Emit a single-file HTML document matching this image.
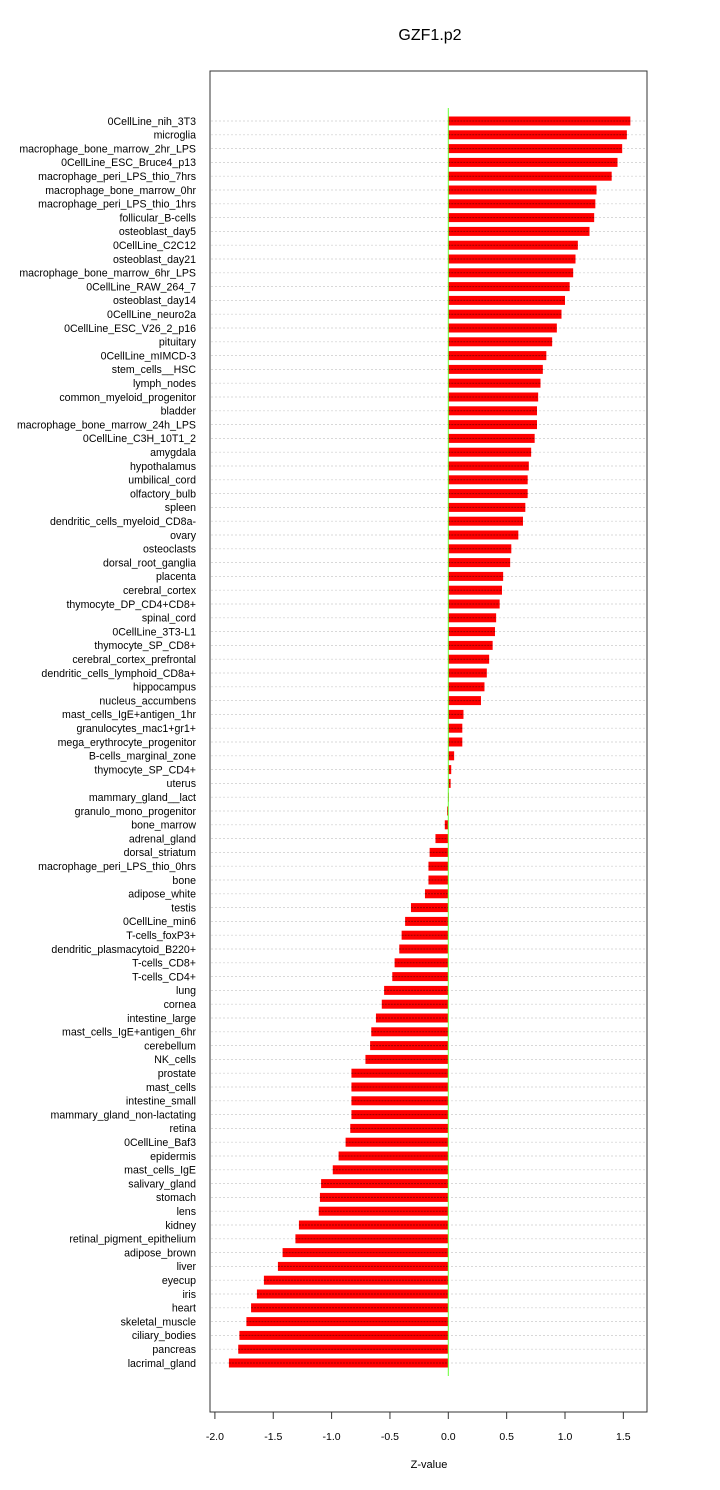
<!DOCTYPE html>
<html><head><meta charset="utf-8"><style>
body{margin:0;background:#fff;}
svg text{font-family:"Liberation Sans",sans-serif;}
</style></head><body>
<svg id="chart" width="720" height="1485" xmlns="http://www.w3.org/2000/svg">
<text x="430" y="40" font-size="16" text-anchor="middle">GZF1.p2</text>
<rect x="210" y="71" width="437" height="1341" fill="none" stroke="#333" stroke-width="1"/>
<g id="grid"></g><g id="bars"></g><g id="labels"></g><g id="xaxis"></g>
<text x="429" y="1468" font-size="11" text-anchor="middle">Z-value</text>
</svg>
<script>
const categories=["0CellLine_nih_3T3","microglia","macrophage_bone_marrow_2hr_LPS","0CellLine_ESC_Bruce4_p13","macrophage_peri_LPS_thio_7hrs","macrophage_bone_marrow_0hr","macrophage_peri_LPS_thio_1hrs","follicular_B-cells","osteoblast_day5","0CellLine_C2C12","osteoblast_day21","macrophage_bone_marrow_6hr_LPS","0CellLine_RAW_264_7","osteoblast_day14","0CellLine_neuro2a","0CellLine_ESC_V26_2_p16","pituitary","0CellLine_mIMCD-3","stem_cells__HSC","lymph_nodes","common_myeloid_progenitor","bladder","macrophage_bone_marrow_24h_LPS","0CellLine_C3H_10T1_2","amygdala","hypothalamus","umbilical_cord","olfactory_bulb","spleen","dendritic_cells_myeloid_CD8a-","ovary","osteoclasts","dorsal_root_ganglia","placenta","cerebral_cortex","thymocyte_DP_CD4+CD8+","spinal_cord","0CellLine_3T3-L1","thymocyte_SP_CD8+","cerebral_cortex_prefrontal","dendritic_cells_lymphoid_CD8a+","hippocampus","nucleus_accumbens","mast_cells_IgE+antigen_1hr","granulocytes_mac1+gr1+","mega_erythrocyte_progenitor","B-cells_marginal_zone","thymocyte_SP_CD4+","uterus","mammary_gland__lact","granulo_mono_progenitor","bone_marrow","adrenal_gland","dorsal_striatum","macrophage_peri_LPS_thio_0hrs","bone","adipose_white","testis","0CellLine_min6","T-cells_foxP3+","dendritic_plasmacytoid_B220+","T-cells_CD8+","T-cells_CD4+","lung","cornea","intestine_large","mast_cells_IgE+antigen_6hr","cerebellum","NK_cells","prostate","mast_cells","intestine_small","mammary_gland_non-lactating","retina","0CellLine_Baf3","epidermis","mast_cells_IgE","salivary_gland","stomach","lens","kidney","retinal_pigment_epithelium","adipose_brown","liver","eyecup","iris","heart","skeletal_muscle","ciliary_bodies","pancreas","lacrimal_gland"];
const values=[1.56,1.53,1.49,1.45,1.40,1.27,1.26,1.25,1.21,1.11,1.09,1.07,1.04,1.00,0.97,0.93,0.89,0.84,0.81,0.79,0.77,0.76,0.76,0.74,0.71,0.69,0.68,0.68,0.66,0.64,0.60,0.54,0.53,0.47,0.46,0.44,0.41,0.40,0.38,0.35,0.33,0.31,0.28,0.13,0.12,0.12,0.05,0.025,0.02,0.005,-0.01,-0.03,-0.11,-0.16,-0.17,-0.17,-0.20,-0.32,-0.37,-0.40,-0.42,-0.46,-0.48,-0.55,-0.57,-0.62,-0.66,-0.67,-0.71,-0.83,-0.83,-0.83,-0.83,-0.84,-0.88,-0.94,-0.99,-1.09,-1.10,-1.11,-1.28,-1.31,-1.42,-1.46,-1.58,-1.64,-1.69,-1.73,-1.79,-1.80,-1.88];
const ticks=[-2.0,-1.5,-1.0,-0.5,0.0,0.5,1.0,1.5];
const tickLabels=["-2.0","-1.5","-1.0","-0.5","0.0","0.5","1.0","1.5"];
const NS="http://www.w3.org/2000/svg";
const xs=v=>448.3+v*116.7;
const ys=i=>121+i*(1363-121)/(categories.length-1);
function mk(tag,attrs,parent){const e=document.createElementNS(NS,tag);for(const k in attrs)e.setAttribute(k,attrs[k]);document.getElementById(parent).appendChild(e);return e;}
categories.forEach((c,i)=>{
  const y=ys(i);
  const g=mk('line',{x1:211,x2:646,y1:y,y2:y,stroke:'#ccc','stroke-width':0.7,'stroke-dasharray':'2,2'},'grid');
  
  
  const v=values[i],x0=xs(0),x1=xs(v);
  const b=mk('rect',{x:Math.min(x0,x1),y:y-4.5,width:Math.max(Math.abs(x1-x0),0.5),height:9,fill:'#ff0000'},'bars');
  
  
  const d=mk('line',{x1:Math.min(x0,x1),x2:Math.max(x0,x1),y1:y,y2:y,stroke:'#990000','stroke-width':1,'stroke-dasharray':'2,1'},'bars');
  
  
  const t=mk('text',{x:196,y:y+3.8,'font-size':10.6,'text-anchor':'end'},'labels');
  t.textContent=c;
  
  
});
const z=mk('line',{x1:xs(0),x2:xs(0),y1:108,y2:1376,stroke:'#66ff33','stroke-width':1},'bars');


ticks.forEach((t,i)=>{
  const x=xs(t);
  const l=mk('line',{x1:x,x2:x,y1:1412,y2:1419,stroke:'#333'},'xaxis');
  
  
  const tx=mk('text',{x:x,y:1440,'font-size':10.5,'text-anchor':'middle'},'xaxis');
  tx.textContent=tickLabels[i];
  
  
});
</script>
</body></html>
